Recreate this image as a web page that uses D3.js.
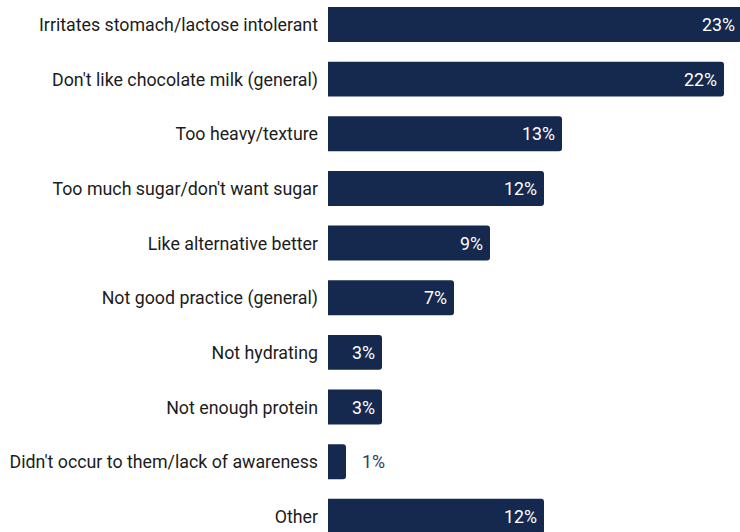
<!DOCTYPE html>
<html>
<head>
<meta charset="utf-8">
<script src="https://cdn.jsdelivr.net/npm/d3@7"></script>
<style>
  html, body { margin: 0; padding: 0; background: #fff; }
  svg { display: block; font-family: Roboto, "Noto Sans", sans-serif; }
</style>
</head>
<body>
<svg id="chart" width="740" height="532"></svg>
<script>
const categories = [
  "Irritates stomach/lactose intolerant",
  "Don't like chocolate milk (general)",
  "Too heavy/texture",
  "Too much sugar/don't want sugar",
  "Like alternative better",
  "Not good practice (general)",
  "Not hydrating",
  "Not enough protein",
  "Didn't occur to them/lack of awareness",
  "Other"
];
const values = [23, 22, 13, 12, 9, 7, 3, 3, 1, 12];

const barColor = "#15284d";
const fontSize = 17.8;
const svg = d3.select("#chart");

const x0 = 328;
const x = d3.scaleLinear().domain([0, 1]).range([x0, x0 + 18]);
const y = d3.scaleBand()
  .domain(categories)
  .range([-2.84, 543.66])
  .paddingInner(0.36)
  .paddingOuter(0.18);

const r = 3;
// bars: square on the left, rounded on the right
function barPath(v, c) {
  const x1 = x(0), x2 = x(v), y1 = y(c), y2 = y(c) + y.bandwidth();
  return `M${x1},${y1}H${x2 - r}Q${x2},${y1} ${x2},${y1 + r}V${y2 - r}Q${x2},${y2} ${x2 - r},${y2}H${x1}Z`;
}

const rows = svg.selectAll("g.row")
  .data(categories.map((c, i) => ({ c, v: values[i] })))
  .join("g")
  .attr("class", "row");

rows.append("path")
  .attr("d", d => barPath(d.v, d.c))
  .attr("fill", barColor);

rows.append("text")
  .attr("x", 318)
  .attr("y", d => y(d.c) + y.bandwidth() / 2)
  .attr("dy", "0.37em")
  .attr("text-anchor", "end")
  .attr("font-size", fontSize)
  .attr("fill", "#1c1c1c")
  .text(d => d.c);

rows.append("text")
  .attr("x", d => d.v >= 3 ? x(d.v) - 7 : x(d.v) + 16)
  .attr("y", d => y(d.c) + y.bandwidth() / 2)
  .attr("dy", "0.37em")
  .attr("text-anchor", d => d.v >= 3 ? "end" : "start")
  .attr("font-size", fontSize)
  .attr("fill", d => d.v >= 3 ? "#fff" : "#2b3d63")
  .text(d => d.v + "%");
</script>
</body>
</html>
